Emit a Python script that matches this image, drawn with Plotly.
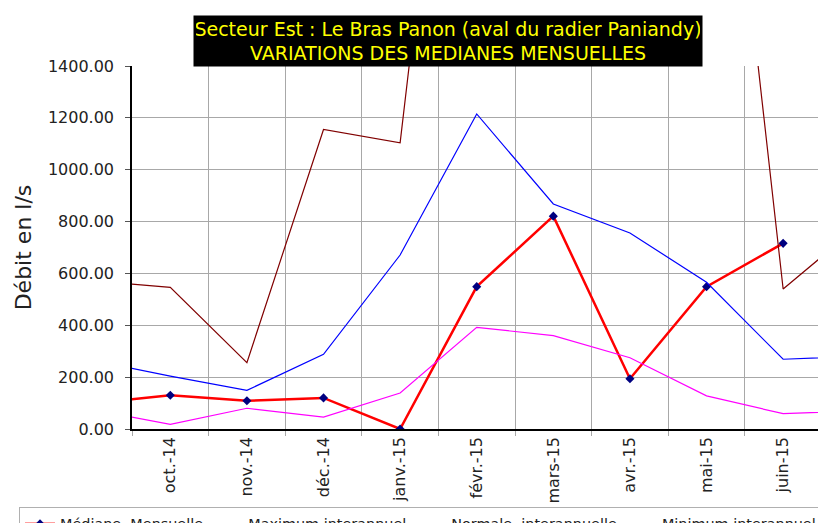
import plotly.graph_objects as go

# months (sept and juil are partly outside the visible range, lines get clipped)
months = ['sept.-14', 'oct.-14', 'nov.-14', 'déc.-14', 'janv.-15', 'févr.-15',
          'mars-15', 'avr.-15', 'mai-15', 'juin-15', 'juil.-15']
mediane = [99, 130, 109, 120, 0, 549, 821, 194, 549, 716, None]
maximum = [572, 546, 256, 1155, 1104, 3620, 4300, 3600, 3175, 540, 787]
normale = [264, 204, 149, 288, 671, 1215, 868, 756, 566, 269, 280]
minimum = [74, 18, 80, 46, 139, 392, 360, 275, 128, 59, 70]

FONT = 'DejaVu Sans'

fig = go.Figure()
fig.add_trace(go.Scatter(
    x=months, y=mediane, mode='lines+markers', name='Médiane\u00a0 Mensuelle',
    line=dict(color='#FF0000', width=2.5),
    marker=dict(symbol='diamond', size=7, color='#000080')
))
fig.add_trace(go.Scatter(
    x=months, y=maximum, mode='lines', name='Maximum interannuel',
    line=dict(color='#800000', width=1.2)
))
fig.add_trace(go.Scatter(
    x=months, y=normale, mode='lines', name='Normale\u00a0 interannuelle',
    line=dict(color='#0000FF', width=1.2)
))
fig.add_trace(go.Scatter(
    x=months, y=minimum, mode='lines', name='Minimum interannuel',
    line=dict(color='#FF00FF', width=1.2)
))

fig.update_layout(
    width=818, height=523,
    margin=dict(l=132, r=0, t=66, b=94, autoexpand=False),
    plot_bgcolor='white', paper_bgcolor='white',
    font=dict(family=FONT, color='#222222'),
    showlegend=True,
    legend=dict(
        orientation='h', x=-0.1647, y=-0.2149, xanchor='left', yanchor='top',
        font=dict(size=14.4, color='#222222'),
        bordercolor='#B0B0B0', borderwidth=1, bgcolor='white'
    ),
    annotations=[dict(
        text='Secteur Est : Le Bras Panon (aval du radier Paniandy)<br>VARIATIONS DES MEDIANES MENSUELLES',
        xref='paper', yref='paper', x=0.4606, y=1.0702,
        xanchor='center', yanchor='middle', showarrow=False,
        font=dict(family=FONT, size=19, color='#FFFF00'),
        bgcolor='#000000', width=504, height=46, borderpad=2
    )]
)

fig.update_xaxes(
    type='category', range=[0.5, 9.455], tickson='boundaries',
    showgrid=True, gridcolor='#A8A8A8', gridwidth=1,
    ticks='outside', ticklen=5, tickcolor='#A8A8A8',
    tickangle=-90, tickfont=dict(size=16, color='#222222'),
    showline=True, linecolor='black', linewidth=1.5,
    zeroline=False, automargin=False
)
fig.update_yaxes(
    range=[0, 1400], dtick=200, tickformat='.2f',
    showgrid=True, gridcolor='#A8A8A8', gridwidth=1,
    ticks='outside', ticklen=5, tickcolor='#555555',
    ticklabelstandoff=8,
    tickfont=dict(size=16, color='#222222'),
    showline=True, linecolor='black', linewidth=1.5,
    zeroline=False, automargin=False,
    title=dict(text='Débit en l/s', font=dict(size=22, color='#222222'), standoff=10)
)

# drop the default page margin so the figure sits at the window's top-left corner
fig.write_html("out.html", config={'displayModeBar': False},
               post_script="document.body.style.margin='0';")
